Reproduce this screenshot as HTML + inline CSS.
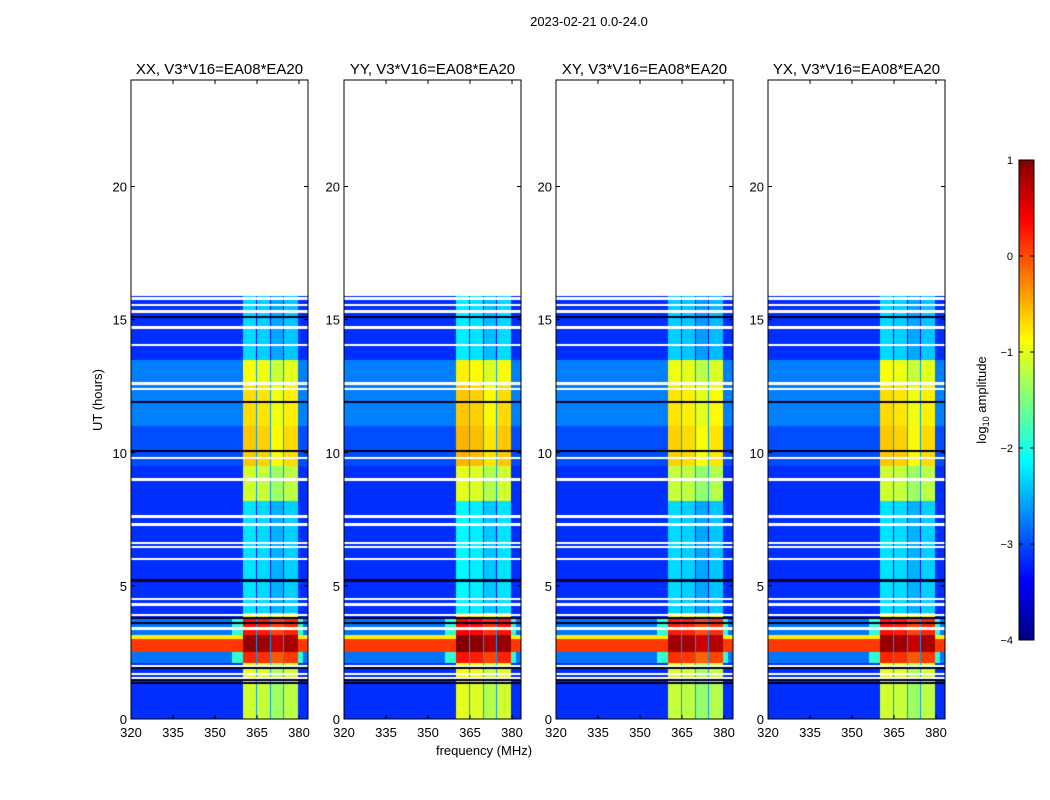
<!DOCTYPE html>
<html><head><meta charset="utf-8">
<style>
body{margin:0;background:#fff;width:1050px;height:800px;overflow:hidden;font-family:"Liberation Sans",sans-serif;}
#wrap{position:relative;width:1050px;height:800px;}
canvas{position:absolute;}
svg{position:absolute;left:0;top:0;}
</style></head><body>
<div id="wrap">
<svg id="ov" width="1050" height="800"></svg>
</div>
<script>
// ---- data ----
const panelTitles = ["XX, V3*V16=EA08*EA20","YY, V3*V16=EA08*EA20","XY, V3*V16=EA08*EA20","YX, V3*V16=EA08*EA20"];
const panelLeft = [131,344,556,768];
const xTicks = [320,335,350,365,380];
const yTicks = [0,5,10,15,20];
const cbTicks = [1,0,-1,-2,-3,-4];
// time segments: start hr, end hr, out-of-band log amp, in-band log amp
const segStart = [0,1.3,2.1,2.5,3.0,3.15,3.8,4.0,8.2,9.5,11.0,12.5,13.5];
const segEnd   = [1.3,2.1,2.5,3.0,3.15,3.8,4.0,8.2,9.5,11.0,12.5,13.5,15.9];
const segOut   = [-3.15,-3.15,-2.8,0.1,-0.8,-2.8,-3.15,-3.15,-3.15,-3.0,-2.75,-2.75,-3.15];
const segIn    = [-1.2,-1.1,0.1,0.8,0.8,0.2,-0.9,-2.35,-1.2,-0.7,-0.8,-1.0,-2.4];
// per-panel in-band offset
const panelInOffset = [0,0.1,-0.05,0];
// sub-bands (MHz)
const bandLo = [360,365.0,370.0,374.7];
const bandHi = [364.5,369.5,374.2,379.5];
const bandGain = [0.1,0.05,-0.15,0];
// shoulder (edge) emission near band
const edgeStart = [2.1,3.15];
const edgeEnd = [2.5,3.8];
const edgeLevel = [-1.9,-1.9];
// flagged (white) rows and dark rows, in hours
const whiteRows = [15.8,15.55,15.3,14.7,14.05,12.6,12.4,9.8,9.0,7.6,7.3,6.6,6.45,6.0,4.5,4.3,3.9,3.4,2.0,1.7,1.55];
const blackRows = [15.1,11.9,10.05,5.2,3.8,3.6,1.9,1.45,1.35];
const vmin=-4, vmax=1;

// ---- scales ----
const PT=80, PB=719, PW=177, FMIN=320, FMAX=383.2, TMAX=24;
const xOf=(f,l)=>l+(f-FMIN)/(FMAX-FMIN)*PW;
const yOf=t=>PB-t/TMAX*(PB-PT);

function jet(v){
  let t=(v-vmin)/(vmax-vmin); t=Math.max(0,Math.min(1,t));
  const c=x=>Math.max(0,Math.min(1,x));
  return [c(1.5-Math.abs(4*t-3)),c(1.5-Math.abs(4*t-2)),c(1.5-Math.abs(4*t-1))].map(x=>Math.round(x*255));
}
function value(t,f,p){
  let s=-1;
  for(let i=0;i<segStart.length;i++) if(t>=segStart[i]&&t<segEnd[i]){s=i;break;}
  if(s<0) return null;
  for(const w of whiteRows) if(Math.abs(t-w)<0.045) return null;
  for(const b of blackRows) if(Math.abs(t-b)<0.04) return -5;
  for(let b=0;b<bandLo.length;b++) if(f>=bandLo[b]&&f<=bandHi[b]) return segIn[s]+bandGain[b]+panelInOffset[p];
  if(f>=bandLo[0]&&f<=bandHi[bandHi.length-1]) return Math.min(segIn[s]-1.0,-2.6);
  for(let e=0;e<edgeStart.length;e++) if(t>=edgeStart[e]&&t<edgeEnd[e]&&((f>=356&&f<360)||(f>379.5&&f<381.5))) return Math.max(edgeLevel[e],segOut[s]);
  return segOut[s];
}
const wrap=document.getElementById('wrap');
panelLeft.forEach((L,p)=>{
  const cv=document.createElement('canvas');
  
  
  cv.width=PW; cv.height=PB-PT; cv.style.left=L+'px'; cv.style.top=PT+'px';
  const ctx=cv.getContext('2d'); const img=ctx.createImageData(PW,PB-PT);
  for(let py=0;py<PB-PT;py++){
    const t=(PB-PT-py-0.5)/(PB-PT)*TMAX;
    for(let px=0;px<PW;px++){
      const f=FMIN+(px+0.5)/PW*(FMAX-FMIN);
      const v=value(t,f,p); const k=(py*PW+px)*4;
      let c = v===null?[255,255,255]:(v<=-5?[0,0,40]:jet(v));
      img.data[k]=c[0];img.data[k+1]=c[1];img.data[k+2]=c[2];img.data[k+3]=255;
    }
  }
  ctx.putImageData(img,0,0); wrap.insertBefore(cv,wrap.firstChild);
});
// colorbar
const cb=document.createElement('canvas');


cb.width=15;cb.height=480;cb.style.left='1019px';cb.style.top='160px';
{const c=cb.getContext('2d');for(let y=0;y<480;y++){const col=jet(vmax-(y+0.5)/480*(vmax-vmin));c.fillStyle=`rgb(${col})`;c.fillRect(0,y,15,1);}}
wrap.insertBefore(cb,wrap.firstChild);

// ---- overlay ----
const NS='http://www.w3.org/2000/svg', ov=document.getElementById('ov');
function el(tag,attrs,text,name){const e=document.createElementNS(NS,tag);for(const k in attrs)e.setAttribute(k,attrs[k]);if(text!==undefined)e.textContent=text;
  
  
  ov.appendChild(e);return e;}
el('text',{x:589,y:26,'text-anchor':'middle','font-size':13,fill:'#000'},'2023-02-21 0.0-24.0','figure-title');
panelLeft.forEach((L,p)=>{
  el('rect',{x:L,y:PT,width:PW,height:PB-PT,fill:'none',stroke:'#000','stroke-width':1},undefined,'panel-frame');
  el('text',{x:L+PW/2,y:74,'text-anchor':'middle','font-size':15,fill:'#000'},panelTitles[p],'panel-title');
  xTicks.forEach(v=>{const x=xOf(v,L);
    el('line',{x1:x,x2:x,y1:PB,y2:PB-4,stroke:'#000'},undefined,'x-tick');
    el('line',{x1:x,x2:x,y1:PT,y2:PT+4,stroke:'#000'},undefined,'x-tick');
    el('text',{x:x,y:737,'text-anchor':'middle','font-size':13},String(v),'x-tick-label');});
  yTicks.forEach(v=>{const y=yOf(v);
    el('line',{x1:L,x2:L+4,y1:y,y2:y,stroke:'#000'},undefined,'y-tick');
    el('line',{x1:L+PW,x2:L+PW-4,y1:y,y2:y,stroke:'#000'},undefined,'y-tick');
    el('text',{x:L-4,y:y+5,'text-anchor':'end','font-size':13},String(v),'y-tick-label');});
});
el('text',{x:484,y:755,'text-anchor':'middle','font-size':13},'frequency (MHz)','x-axis-title');
el('text',{x:102,y:400,'text-anchor':'middle','font-size':13,transform:'rotate(-90 102 400)'},'UT (hours)','y-axis-title');
el('rect',{x:1019,y:160,width:15,height:480,fill:'none',stroke:'#000'},undefined,'colorbar-frame');
cbTicks.forEach(v=>{const y=160+(vmax-v)/(vmax-vmin)*480;
  el('line',{x1:1019,x2:1023,y1:y,y2:y,stroke:'#000'},undefined,'colorbar-tick');
  el('line',{x1:1034,x2:1030,y1:y,y2:y,stroke:'#000'},undefined,'colorbar-tick');
  el('text',{x:1013,y:y+4,'text-anchor':'end','font-size':11},v<0?'\u2212'+(-v):String(v),'colorbar-tick-label');});
const lt=el('text',{x:986,y:400,'text-anchor':'middle','font-size':13,transform:'rotate(-90 986 400)'},'log','colorbar-label');
const sub=document.createElementNS(NS,'tspan');sub.setAttribute('font-size',9);sub.setAttribute('dy',3);sub.textContent='10';lt.appendChild(sub);
const rest=document.createElementNS(NS,'tspan');rest.setAttribute('dy',-3);rest.textContent=' amplitude';lt.appendChild(rest);
</script>
</body></html>
